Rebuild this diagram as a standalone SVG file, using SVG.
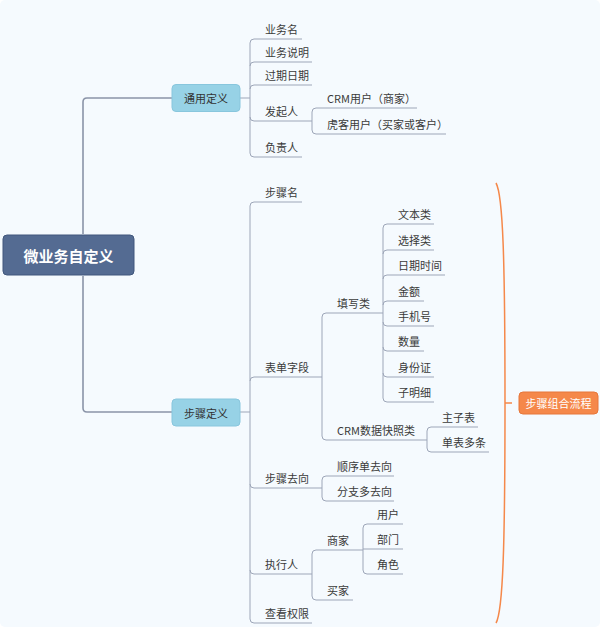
<svg xmlns="http://www.w3.org/2000/svg" width="600" height="627" viewBox="0 0 600 627">
<style>
text{font-family:"Noto Sans CJK SC","Liberation Sans",sans-serif;}
.t{font-size:11px;fill:#3a3a3a;}
.nt{font-size:11px;fill:#333;text-anchor:middle;dominant-baseline:central;}
.c{fill:none;stroke:#9da6b8;stroke-width:1;}
.m{fill:none;stroke:#8a94a8;stroke-width:1.6;}
</style>
<rect width="600" height="627" fill="#ffffff"/>
<rect x="0" y="0" width="600" height="627" rx="5" fill="#f5fafe"/>
<g id="connectors">
<path class="m" d="M83,234 V102 Q83,98 87,98 H172"/>
<path class="m" d="M83,276 V408 Q83,412 87,412 H172"/>
<!-- 通用定义 -->
<path class="c" d="M240,98 H250 M250,43 V153"/>
<path class="c" d="M250,43 Q250,39 254,39 H302 M250,66 Q250,62 254,62 H312 M250,89 Q250,85 254,85 H312 M250,117 Q250,121 254,121 H312 M250,153 Q250,157 254,157 H302"/>
<path class="c" d="M312,112 V130 M312,112 Q312,108 316,108 H417 M312,130 Q312,134 316,134 H446"/>
<!-- 步骤定义 -->
<path class="c" d="M240,412 H250 M250,206 V619"/>
<path class="c" d="M250,206 Q250,202 254,202 H302 M250,381 Q250,377 254,377 H322 M250,484 Q250,488 254,488 H322 M250,570 Q250,574 254,574 H312 M250,619 Q250,623 254,623 H312"/>
<path class="c" d="M322,317 V436 M322,317 Q322,313 326,313 H383 M322,436 Q322,440 326,440 H427"/>
<path class="c" d="M383,228 V398 M383,228 Q383,224 387,224 H434 M383,254 Q383,250 387,250 H434 M383,279 Q383,275 387,275 H445 M383,305 Q383,301 387,301 H424 M383,322 Q383,326 387,326 H434 M383,347 Q383,351 387,351 H424 M383,373 Q383,377 387,377 H434 M383,398 Q383,402 387,402 H434"/>
<path class="c" d="M427,431 V448 M427,431 Q427,427 431,427 H478 M427,448 Q427,452 431,452 H489"/>
<path class="c" d="M322,480 V497 M322,480 Q322,476 326,476 H394 M322,497 Q322,501 326,501 H394"/>
<path class="c" d="M312,554 V596 M312,554 Q312,550 316,550 H363 M312,596 Q312,600 316,600 H353"/>
<path class="c" d="M363,528 V570 M363,528 Q363,524 367,524 H403 M363,549 H403 M363,570 Q363,574 367,574 H403"/>
<path fill="none" stroke="#f5884a" stroke-width="1.5" d="M496,183 C503,195 505,260 505,403 C505,546 503,611 496,623 M505,403 H512"/>
</g>
<g id="root">
<rect x="3" y="235" width="131" height="40" rx="4" fill="#546b92" stroke="#40577c" stroke-width="1"/>
<text x="68.5" y="255" font-size="15" font-weight="bold" fill="#ffffff" text-anchor="middle" dominant-baseline="central">微业务自定义</text>
</g>
<g id="n-tongyong">
<rect x="172" y="84.5" width="68" height="27" rx="4" fill="#97d2e6" stroke="#88c6dd"/>
<text class="nt" x="206" y="98">通用定义</text>
</g>
<g id="n-buzhou">
<rect x="172" y="399" width="68" height="27" rx="4" fill="#97d2e6" stroke="#88c6dd"/>
<text class="nt" x="206" y="412.5">步骤定义</text>
</g>
<g id="n-liucheng">
<rect x="519" y="392" width="79" height="22" rx="4" fill="#f5884a" stroke="#e6773a"/>
<text x="558.5" y="403" font-size="11" fill="#ffffff" text-anchor="middle" dominant-baseline="central">步骤组合流程</text>
</g>
<g id="n-ywm"><text class="t" x="265" y="34">业务名</text></g>
<g id="n-ywsm"><text class="t" x="265" y="57">业务说明</text></g>
<g id="n-gqrq"><text class="t" x="265" y="80">过期日期</text></g>
<g id="n-fqr"><text class="t" x="265" y="116">发起人</text></g>
<g id="n-crmyh"><text class="t" x="327" y="103">CRM用户（商家）</text></g>
<g id="n-hkyh"><text class="t" x="327" y="129">虎客用户（买家或客户）</text></g>
<g id="n-fzr"><text class="t" x="265" y="152">负责人</text></g>
<g id="n-bzm"><text class="t" x="265" y="197">步骤名</text></g>
<g id="n-bdzd"><text class="t" x="265" y="372">表单字段</text></g>
<g id="n-txl"><text class="t" x="337" y="308">填写类</text></g>
<g id="n-wbl"><text class="t" x="398" y="219">文本类</text></g>
<g id="n-xzl"><text class="t" x="398" y="245">选择类</text></g>
<g id="n-rqsj"><text class="t" x="398" y="270">日期时间</text></g>
<g id="n-je"><text class="t" x="398" y="296">金额</text></g>
<g id="n-sjh"><text class="t" x="398" y="321">手机号</text></g>
<g id="n-sl"><text class="t" x="398" y="346">数量</text></g>
<g id="n-sfz"><text class="t" x="398" y="372">身份证</text></g>
<g id="n-zmx"><text class="t" x="398" y="397">子明细</text></g>
<g id="n-crmkz"><text class="t" x="337" y="435">CRM数据快照类</text></g>
<g id="n-zzb"><text class="t" x="442" y="422">主子表</text></g>
<g id="n-dbdt"><text class="t" x="442" y="447">单表多条</text></g>
<g id="n-bzqx"><text class="t" x="265" y="483">步骤去向</text></g>
<g id="n-sxdqx"><text class="t" x="337" y="471">顺序单去向</text></g>
<g id="n-fzdqx"><text class="t" x="337" y="496">分支多去向</text></g>
<g id="n-zxr"><text class="t" x="265" y="569">执行人</text></g>
<g id="n-sj"><text class="t" x="327" y="545">商家</text></g>
<g id="n-yh"><text class="t" x="377" y="519">用户</text></g>
<g id="n-bm"><text class="t" x="377" y="544">部门</text></g>
<g id="n-js"><text class="t" x="377" y="569">角色</text></g>
<g id="n-mj"><text class="t" x="327" y="595">买家</text></g>
<g id="n-ckqx"><text class="t" x="265" y="618">查看权限</text></g>
</svg>
